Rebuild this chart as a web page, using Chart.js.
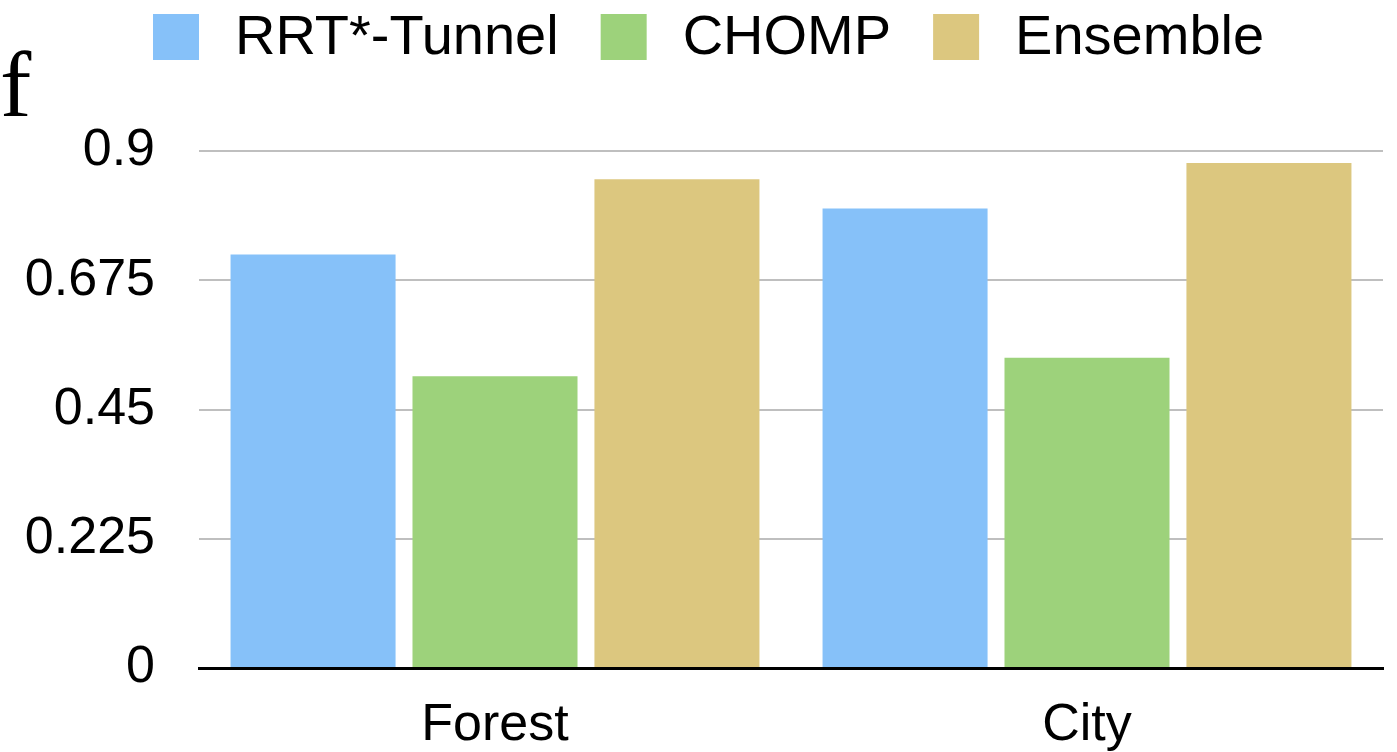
<!DOCTYPE html>
<html>
<head>
<meta charset="utf-8">
<script src="https://cdn.jsdelivr.net/npm/chart.js@4.4.1/dist/chart.umd.min.js"></script>
<style>
  html, body { margin: 0; padding: 0; background: #ffffff; }
  #wrap { position: relative; width: 1397px; height: 752px; }
  canvas { display: block; }
</style>
</head>
<body>
<div id="wrap"><canvas id="chart" width="1397" height="752"></canvas></div>
<script>
// Success rate per environment for each planner
const categories = ['Forest', 'City'];
const seriesNames = ['RRT*-Tunnel', 'CHOMP', 'Ensemble'];
const rrtTunnel = [0.72, 0.80];
const chomp = [0.508, 0.54];
const ensemble = [0.851, 0.879];
const yTickValues = [0, 0.225, 0.45, 0.675, 0.9];

const seriesColors = ['#86c1f9', '#9dd27b', '#dcc77f'];
const FONT = '"Liberation Sans", Arial, Helvetica, sans-serif';

// Legend row drawn across the top of the canvas
const topLegend = {
  id: 'topLegend',
  afterDraw(chart) {
    const ctx = chart.ctx;
    const box = 46, boxGap = 36, itemGap = 42;
    ctx.save();
    ctx.font = '56px ' + FONT;
    ctx.textBaseline = 'middle';
    ctx.textAlign = 'left';
    let x = 153;
    chart.data.datasets.forEach(ds => {
      ctx.fillStyle = ds.backgroundColor;
      ctx.fillRect(x, 14, box, box);
      ctx.fillStyle = '#000000';
      ctx.fillText(ds.label, x + box + boxGap, 39);
      x += box + boxGap + ctx.measureText(ds.label).width + itemGap;
    });
    // fragment of the slide heading at the far left edge
    ctx.font = '94px "Liberation Serif", "DejaVu Serif", serif';
    ctx.textBaseline = 'alphabetic';
    ctx.fillText('of', -47, 116);
    ctx.restore();
  }
};

new Chart(document.getElementById('chart'), {
  type: 'bar',
  data: {
    labels: categories,
    datasets: [
      { label: seriesNames[0], data: rrtTunnel, backgroundColor: seriesColors[0] },
      { label: seriesNames[1], data: chomp, backgroundColor: seriesColors[1] },
      { label: seriesNames[2], data: ensemble, backgroundColor: seriesColors[2] }
    ]
  },
  options: {
    responsive: false,
    animation: false,
    devicePixelRatio: 1,
    layout: { padding: { top: 151, right: 14, bottom: 0, left: 0 } },
    datasets: {
      bar: { categoryPercentage: 0.922, barPercentage: 0.907, borderWidth: 0 }
    },
    plugins: {
      legend: { display: false },
      tooltip: { enabled: false },
      title: { display: false }
    },
    scales: {
      x: {
        z: 1,
        grid: { display: false, drawTicks: false },
        border: { display: true, color: '#000000', width: 3 },
        ticks: { color: '#000000', font: { family: FONT, size: 52 }, padding: 26 },
        afterFit(scale) { scale.height = 84; }
      },
      y: {
        z: 1,
        min: 0,
        max: 0.9,
        afterBuildTicks(scale) { scale.ticks = yTickValues.map(v => ({ value: v })); },
        grid: { color: 'rgba(0,0,0,0.25)', lineWidth: 2, drawTicks: false },
        border: { display: false },
        ticks: {
          color: '#000000',
          font: { family: FONT, size: 52 },
          padding: 44,
          callback: v => String(v)
        },
        afterFit(scale) { scale.width = 199; }
      }
    }
  },
  plugins: [topLegend]
});
</script>
</body>
</html>
